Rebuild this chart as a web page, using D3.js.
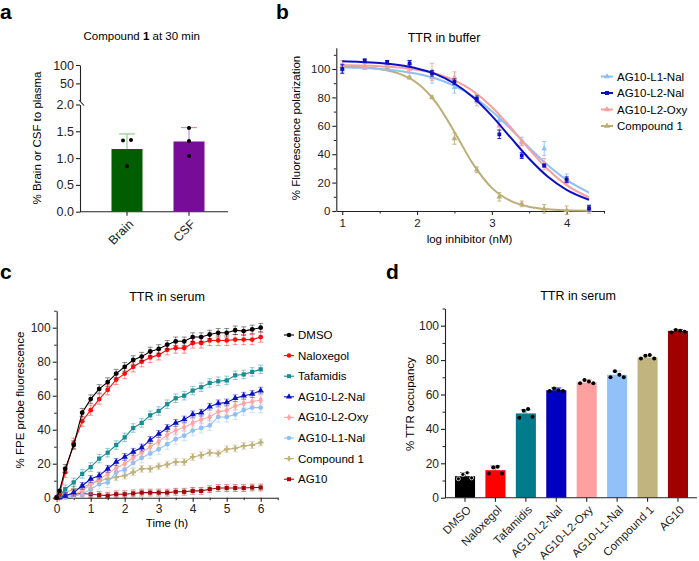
<!DOCTYPE html>
<html>
<head>
<meta charset="utf-8">
<script src="https://cdn.jsdelivr.net/npm/d3@7"></script>
<style>
  body { margin: 0; background: #fff; }
  svg { font-family: "Liberation Sans", Arial, sans-serif; }
  .axis path, .axis line { stroke: #222; }
  .axis text { fill: #222; }
</style>
</head>
<body>
<svg id="fig" width="699" height="561"></svg>
<script>
// ---- panel a: compound 1 brain / CSF penetration ----
const tissues = ["Brain", "CSF"];
const tissueMean = [1.17, 1.31];
const tissueSd = [0.28, 0.26];
const tissuePts = [[1.33, 1.34, 0.85], [1.56, 1.32, 1.04]];
const tissueColors = ["#005e00", "#760c98"];
const tissueErrColors = ["#8ccf8c", "#c68fdc"];

// ---- panel b: TTR in buffer (FP) ----
const logConc = [1, 1.3, 1.6, 1.9, 2.2, 2.5, 2.8, 3.1, 3.4, 3.7, 4.0, 4.3];
const fpNames = ["AG10-L1-Nal", "AG10-L2-Nal", "AG10-L2-Oxy", "Compound 1"];
const fpL1Nal = [100, 102, 104, 104, 94, 87, 79, 64, 49, 44, 23, 2];
const fpL2Nal = [100, 106, 105, 104, 97, 91, 79, 54, 39, 32, 22, 2];
const fpL2Oxy = [102, 102, 103, 100, 98, 94, 78, 60, 48, 33, 21, 1];
const fpCmpd1 = [102, 101, 101, 94, 80, 51, 29, 10, 5, 1.5, 0.5, 0.5];
const fpErrL1Nal = [3, 2, 2, 2, 4, 4, 3, 3, 3, 5, 3, 2];
const fpErrL2Nal = [3, 1, 1, 2, 2, 2, 2, 3, 2, 1, 2, 2];
const fpErrL2Oxy = [4, 2, 1, 3, 6, 4, 4, 3, 2, 4, 2, 1];
const fpErrCmpd1 = [2, 1, 1, 1, 1, 4, 2, 3, 2, 3, 3, 2];
// fitted dose-response curves
const fitX = [1, 1.25, 1.5, 1.75, 2, 2.25, 2.5, 2.75, 3, 3.25, 3.5, 3.75, 4, 4.3];
const fitL1Nal = [101.3, 100.8, 100.0, 98.8, 96.6, 93.3, 88.1, 80.5, 70.3, 57.9, 44.6, 32.2, 21.9, 13.0];
const fitL2Nal = [105.4, 105.0, 104.2, 102.8, 100.4, 96.4, 89.8, 80.1, 67.0, 51.8, 36.8, 24.1, 14.9, 7.9];
const fitL2Oxy = [102.7, 102.4, 101.9, 101.1, 99.5, 96.7, 92.0, 84.4, 73.3, 59.0, 43.4, 29.2, 18.2, 9.6];
const fitCmpd1 = [101.7, 101.2, 99.9, 96.9, 90.1, 76.6, 55.7, 33.0, 16.3, 7.2, 3.0, 1.2, 0.5, 0.2];
const fpColors = ["#8fc0f5", "#0a0fc4", "#f6a0a0", "#bcae74"];

// ---- panel c: TTR in serum (FPE kinetics) ----
const hours = [0, 0.083, 0.25, 0.5, 0.75, 1, 1.25, 1.5, 1.75, 2, 2.25, 2.5, 2.75, 3,
               3.25, 3.5, 3.75, 4, 4.25, 4.5, 4.75, 5, 5.25, 5.5, 5.75, 6];
const serumNames = ["DMSO", "Naloxegol", "Tafamidis", "AG10-L2-Nal", "AG10-L2-Oxy", "AG10-L1-Nal", "Compound 1", "AG10"];
const fpeDMSO = [0, 4, 17, 31, 50, 58, 64, 68, 73, 77, 81, 83, 86, 87.5, 90, 92, 92, 94.5, 94.5, 96, 97, 97, 98.5, 98, 99, 100];
const fpeNalox = [0, 2, 15, 32, 45, 51.5, 58, 63.5, 69.5, 73, 77, 80, 82.5, 84, 87, 88, 88, 91, 91, 92.5, 92.5, 92.5, 93, 93, 93, 94.5];
const fpeTafa = [0, 1, 5, 9, 14, 18, 23, 26.5, 31, 35.5, 41, 44, 48.5, 51, 55, 58.5, 60, 63, 65, 67.5, 68.5, 69, 72, 72.5, 74, 75.5];
const fpeL2Nal = [0, 0, 1, 3, 7, 11, 13, 17, 21, 24, 27, 29.5, 34, 37.5, 41, 44, 46, 49, 50, 53.5, 55.5, 56, 58.5, 60, 61, 63];
const fpeL2Oxy = [0, 0, 1, 2, 4, 8, 11, 14, 17.5, 20, 23.5, 26.5, 30, 33, 37, 39.5, 41.5, 44, 46, 47.5, 50.5, 51.5, 54, 55.5, 56.5, 57.5];
const fpeL1Nal = [0, 0, 0, 1, 2, 5, 8, 9, 15, 16.5, 20.5, 23.5, 26, 28.5, 31.5, 34.5, 36.5, 39.5, 41, 42.5, 47.5, 47.5, 49, 51.5, 53, 53];
const fpeCmpd1 = [0, 1, 3, 5, 6, 8, 10, 11, 12, 13, 15, 17, 17, 18.5, 19.5, 21, 21, 24, 25, 26.5, 26, 28.5, 29, 30.5, 31, 32.5];
const fpeAG10 = [0, 1, 1.5, 2, 2.5, 2, 1.6, 1.2, 2, 2, 2.5, 3, 3, 3, 3, 3.5, 3.5, 4, 4, 5, 5.7, 5.7, 5.7, 5.7, 6, 6];
const serumSd = [2.5, 3, 2.5, 2, 2.5, 3, 2, 2];
const serumColors = ["#000000", "#ff0a0a", "#1b8b95", "#0a10c8", "#ffa5a5", "#8fc0f8", "#bfb07a", "#a00a0a"];

// ---- panel d: TTR occupancy in serum ----
const occNames = ["DMSO", "Naloxegol", "Tafamidis", "AG10-L2-Nal", "AG10-L2-Oxy", "AG10-L1-Nal", "Compound 1", "AG10"];
const occMean = [12.5, 16, 49, 62.5, 67, 71.5, 81.5, 97];
const occSd = [2, 2.5, 2.2, 1.4, 1.6, 2.2, 1.2, 0.8];
const occPts = [[11, 13.5, 14.5, 11.5], [14, 17.5, 18, 14], [46.5, 50.5, 51.5, 47], [62, 63.5, 62.5, 62],
                [66.5, 68.5, 67.5, 66.5], [70, 73.5, 71.5, 70], [81, 82.5, 83, 81], [96, 97.5, 97, 96.5]];
const occColors = ["#000000", "#ff0000", "#007b8b", "#0000c0", "#ffa0a0", "#92c0f8", "#c2b47e", "#a00000"];
const occErrColors = ["#555555", "#ff7070", "#5fb3bf", "#4a5cff", "#ffc0c0", "#bcd8fb", "#dcd2aa", "#d06060"];

const svg = d3.select("#fig");

function panelLabel(t, x, y) {
  svg.append("text").attr("x", x).attr("y", y).attr("font-size", 21)
    .attr("font-weight", "bold").text(t);
}
function styleAxis(g) {
  g.attr("class", "axis");
  g.selectAll("path, line").attr("stroke-width", 1.1);
}
function minor(g) { g.attr("class", "axis"); g.select(".domain").remove(); }

// ================= panel a =================
{
  panelLabel("a", 0, 19);
  const g = svg.append("g");
  const x = d3.scaleBand().domain(tissues).range([96, 220]).paddingInner(0.5).paddingOuter(0.25);
  const yLow = d3.scaleLinear().domain([0, 2]).range([211.7, 104.5]);
  const yHigh = d3.scaleLinear().domain([2, 100]).range([101, 65]);

  g.append("g").attr("transform", "translate(80,0)")
    .call(d3.axisLeft(yLow).tickValues([0, 0.5, 1, 1.5, 2]).tickFormat(d3.format(".1f")).tickSize(4).tickPadding(2).tickSizeOuter(0))
    .call(styleAxis).attr("font-size", 12.5);
  g.append("g").attr("transform", "translate(80,0)")
    .call(d3.axisLeft(yHigh).tickValues([50, 100]).tickSize(4).tickPadding(2).tickSizeOuter(0))
    .call(styleAxis).attr("font-size", 12.5);
  // axis break mark
  g.append("line").attr("x1", 79).attr("x2", 84).attr("y1", yHigh(2) - 1).attr("y2", yLow(2) + 1)
    .attr("stroke", "#222").attr("stroke-width", 1.1);

  const xa = g.append("g").attr("transform", `translate(0,${yLow(0)})`)
    .call(d3.axisBottom(x).tickSize(4).tickSizeOuter(0)).call(styleAxis).attr("font-size", 12.5);
  xa.select(".domain").attr("d", `M80,0H228`);
  xa.selectAll(".tick text").attr("y", 0).attr("dy", "0.35em")
    .attr("transform", "translate(4,10) rotate(-45)").style("text-anchor", "end");

  tissues.forEach((t, i) => {
    const cx = x(t) + x.bandwidth() / 2;
    g.append("line").attr("x1", cx).attr("x2", cx).attr("y1", yLow(tissueMean[i])).attr("y2", yLow(tissueMean[i] + tissueSd[i]))
      .attr("stroke", tissueErrColors[i]).attr("stroke-width", 1.2);
    g.append("line").attr("x1", cx - 8).attr("x2", cx + 8)
      .attr("y1", yLow(tissueMean[i] + tissueSd[i])).attr("y2", yLow(tissueMean[i] + tissueSd[i]))
      .attr("stroke", tissueErrColors[i]).attr("stroke-width", 1.2);
    g.append("rect").attr("x", x(t)).attr("width", x.bandwidth())
      .attr("y", yLow(tissueMean[i])).attr("height", yLow(0) - yLow(tissueMean[i]))
      .attr("fill", tissueColors[i]);
  });
  // replicate dots (two at near-equal height sit side by side)
  tissuePts.forEach((pts, i) => {
    const cx = x(tissues[i]) + x.bandwidth() / 2;
    const offs = i === 0 ? [-4, 4, 0] : [0, 0, 0];
    pts.forEach((v, j) => {
      g.append("circle").attr("cx", cx + offs[j]).attr("cy", yLow(v)).attr("r", 2).attr("fill", "#000");
    });
  });

  g.append("text").attr("x", 141.7).attr("y", 40).attr("text-anchor", "middle").attr("font-size", 11.5)
    .call(t => { t.append("tspan").text("Compound "); t.append("tspan").attr("font-weight", "bold").text("1");
                 t.append("tspan").text(" at 30 min"); });
  g.append("text").attr("transform", "translate(41,138) rotate(-90)").attr("text-anchor", "middle")
    .attr("font-size", 11.5).text("% Brain or CSF to plasma");
}

// ================= panel b =================
{
  panelLabel("b", 276, 19);
  const g = svg.append("g");
  const x = d3.scaleLinear().domain([0.92, 4.5]).range([336.3, 604]);
  const y = d3.scaleLinear().domain([0, 115]).range([211, 47.7]);

  g.append("g").attr("transform", `translate(${x.range()[0]},0)`)
    .call(d3.axisLeft(y).tickValues([0, 20, 40, 60, 80, 100]).tickSize(4).tickPadding(2).tickSizeOuter(0))
    .call(styleAxis).attr("font-size", 11.5);
  g.append("g").attr("transform", `translate(${x.range()[0]},0)`)
    .call(d3.axisLeft(y).tickValues([10, 30, 50, 70, 90, 110]).tickSize(2.5).tickFormat("")).call(minor);
  g.append("g").attr("transform", `translate(0,${y(0)})`)
    .call(d3.axisBottom(x).tickValues([1, 2, 3, 4]).tickFormat(d3.format("d")).tickSize(4).tickPadding(4).tickSizeOuter(0))
    .call(styleAxis).attr("font-size", 11.5);
  g.append("g").attr("transform", `translate(0,${y(0)})`)
    .call(d3.axisBottom(x).tickValues([1.5, 2.5, 3.5, 4.5]).tickSize(2.5).tickFormat("")).call(minor);

  const fits = [fitL1Nal, fitL2Nal, fitL2Oxy, fitCmpd1];
  const pts = [fpL1Nal, fpL2Nal, fpL2Oxy, fpCmpd1];
  const errs = [fpErrL1Nal, fpErrL2Nal, fpErrL2Oxy, fpErrCmpd1];
  const syms = [d3.symbolTriangle, d3.symbolSquare, d3.symbolTriangle, d3.symbolTriangle];
  const line = d3.line().x((d, i) => x(fitX[i])).y(d => y(d)).curve(d3.curveMonotoneX);
  const order = [3, 0, 2, 1];
  order.forEach(k => {
    errs[k].forEach((e, i) => {
      const cx = x(logConc[i]), v = pts[k][i];
      g.append("path").attr("d", `M${cx},${y(v - e)}V${y(v + e)}M${cx - 2},${y(v - e)}h4M${cx - 2},${y(v + e)}h4`)
        .attr("stroke", fpColors[k]).attr("stroke-width", 1).attr("fill", "none").attr("opacity", 0.9);
    });
    g.append("g").selectAll("path").data(pts[k]).join("path")
      .attr("transform", (d, i) => `translate(${x(logConc[i])},${y(d)})`)
      .attr("d", d3.symbol(syms[k], 14)).attr("fill", fpColors[k]);
    g.append("path").datum(fits[k]).attr("d", line).attr("fill", "none")
      .attr("stroke", fpColors[k]).attr("stroke-width", 2);
  });

  // legend
  fpNames.forEach((n, k) => {
    const ly = 76.5 + k * 16.5;
    g.append("line").attr("x1", 601).attr("x2", 613).attr("y1", ly).attr("y2", ly)
      .attr("stroke", fpColors[k]).attr("stroke-width", 2);
    g.append("path").attr("transform", `translate(607,${ly})`).attr("d", d3.symbol(syms[k], 16)).attr("fill", fpColors[k]);
    g.append("text").attr("x", 617).attr("y", ly).attr("dy", "0.35em").attr("font-size", 11.5).text(n);
  });

  g.append("text").attr("x", 444).attr("y", 42).attr("text-anchor", "middle").attr("font-size", 12.5).text("TTR in buffer");
  g.append("text").attr("x", 469.5).attr("y", 243).attr("text-anchor", "middle").attr("font-size", 11.5).text("log inhibitor (nM)");
  g.append("text").attr("transform", "translate(300,128) rotate(-90)").attr("text-anchor", "middle")
    .attr("font-size", 11.5).text("% Fluorescence polarization");
}

// ================= panel c =================
{
  panelLabel("c", 0, 279);
  const g = svg.append("g");
  const x = d3.scaleLinear().domain([0, 6.5]).range([56.7, 277.7]);
  const y = d3.scaleLinear().domain([0, 110]).range([497.7, 310.7]);

  g.append("g").attr("transform", `translate(${x(0)},0)`)
    .call(d3.axisLeft(y).tickValues([0, 20, 40, 60, 80, 100]).tickSize(4).tickPadding(2).tickSizeOuter(0))
    .call(styleAxis).attr("font-size", 12);
  g.append("g").attr("transform", `translate(${x(0)},0)`)
    .call(d3.axisLeft(y).tickValues([10, 30, 50, 70, 90, 110]).tickSize(2.5).tickFormat("")).call(minor);
  g.append("g").attr("transform", `translate(0,${y(0)})`)
    .call(d3.axisBottom(x).tickValues([0, 1, 2, 3, 4, 5, 6]).tickFormat(d3.format("d")).tickSize(4).tickPadding(3).tickSizeOuter(0))
    .call(styleAxis).attr("font-size", 12);
  g.append("g").attr("transform", `translate(0,${y(0)})`)
    .call(d3.axisBottom(x).tickValues([0.5, 1.5, 2.5, 3.5, 4.5, 5.5, 6.5]).tickSize(2.5).tickFormat("")).call(minor);

  const series = [fpeDMSO, fpeNalox, fpeTafa, fpeL2Nal, fpeL2Oxy, fpeL1Nal, fpeCmpd1, fpeAG10];
  const syms = [d3.symbolCircle, d3.symbolCircle, d3.symbolSquare, d3.symbolTriangle,
                d3.symbolDiamond, d3.symbolCircle, d3.symbolCross, d3.symbolSquare];
  const line = d3.line().x((d, i) => x(hours[i])).y(d => y(d));
  for (let k = series.length - 1; k >= 0; k--) {
    const sd = serumSd[k];
    series[k].forEach((v, i) => {
      if (i < 2) return;
      const cx = x(hours[i]);
      g.append("path").attr("d", `M${cx},${y(Math.max(0, v - sd))}V${y(v + sd)}M${cx - 2.5},${y(v + sd)}h5M${cx - 2.5},${y(Math.max(0, v - sd))}h5`)
        .attr("stroke", serumColors[k]).attr("stroke-width", 0.9).attr("fill", "none").attr("opacity", 0.5);
    });
    g.append("path").datum(series[k]).attr("d", line).attr("fill", "none")
      .attr("stroke", serumColors[k]).attr("stroke-width", 1.1);
    g.append("g").selectAll("path").data(series[k]).join("path")
      .attr("transform", (d, i) => `translate(${x(hours[i])},${y(d)})`)
      .attr("d", d3.symbol(syms[k], 18)).attr("fill", serumColors[k]);
  }

  serumNames.forEach((n, k) => {
    const ly = 335 + k * 20.6;
    g.append("line").attr("x1", 284).attr("x2", 294).attr("y1", ly).attr("y2", ly)
      .attr("stroke", serumColors[k]).attr("stroke-width", 1.1);
    g.append("path").attr("transform", `translate(289,${ly})`).attr("d", d3.symbol(syms[k], 16)).attr("fill", serumColors[k]);
    g.append("text").attr("x", 298).attr("y", ly).attr("dy", "0.35em").attr("font-size", 11.5).text(n);
  });

  g.append("text").attr("x", 167).attr("y", 301).attr("text-anchor", "middle").attr("font-size", 12.5).text("TTR in serum");
  g.append("text").attr("x", 167).attr("y", 527).attr("text-anchor", "middle").attr("font-size", 11.5).text("Time (h)");
  g.append("text").attr("transform", "translate(24,400) rotate(-90)").attr("text-anchor", "middle")
    .attr("font-size", 11.5).text("% FPE probe fluorescence");
}

// ================= panel d =================
{
  panelLabel("d", 386, 279);
  const g = svg.append("g");
  const x = d3.scaleBand().domain(occNames).range([449.8, 693.2]).paddingInner(0.34).paddingOuter(0.17);
  const y = d3.scaleLinear().domain([0, 110]).range([497.7, 308.5]);

  g.append("g").attr("transform", "translate(445,0)")
    .call(d3.axisLeft(y).tickValues([0, 20, 40, 60, 80, 100]).tickSize(4).tickPadding(2).tickSizeOuter(0))
    .call(styleAxis).attr("font-size", 12);
  g.append("g").attr("transform", "translate(445,0)")
    .call(d3.axisLeft(y).tickValues([10, 30, 50, 70, 90, 110]).tickSize(2.5).tickFormat("")).call(minor);

  occNames.forEach((n, i) => {
    const x0 = x(n), cx = x0 + x.bandwidth() / 2, top = occMean[i] + occSd[i];
    g.append("path").attr("d", `M${cx},${y(occMean[i])}V${y(top)}M${cx - 5},${y(top)}h10`)
      .attr("stroke", occErrColors[i]).attr("stroke-width", 1.2).attr("fill", "none");
    g.append("rect").attr("x", x0).attr("width", x.bandwidth()).attr("y", y(occMean[i]))
      .attr("height", y(0) - y(occMean[i])).attr("fill", occColors[i]);
    occPts[i].forEach((v, j) => {
      g.append("circle").attr("cx", cx + (j - 1.5) * x.bandwidth() * 0.22).attr("cy", y(v)).attr("r", 2)
        .attr("fill", "#000").attr("stroke", i === 0 ? "#fff" : "none").attr("stroke-width", 0.7);
    });
  });

  const xa = g.append("g").attr("transform", `translate(0,${y(0)})`)
    .call(d3.axisBottom(x).tickSize(4).tickSizeOuter(0)).call(styleAxis).attr("font-size", 11.5);
  xa.select(".domain").attr("d", "M445,0H697");
  xa.selectAll(".tick text").attr("y", 0).attr("dy", "0.35em")
    .attr("transform", "translate(4,10) rotate(-45)").style("text-anchor", "end");

  g.append("text").attr("x", 578).attr("y", 300).attr("text-anchor", "middle").attr("font-size", 12.5).text("TTR in serum");
  g.append("text").attr("transform", "translate(414,404) rotate(-90)").attr("text-anchor", "middle")
    .attr("font-size", 11.5).text("% TTR occupancy");
}
</script>
</body>
</html>
